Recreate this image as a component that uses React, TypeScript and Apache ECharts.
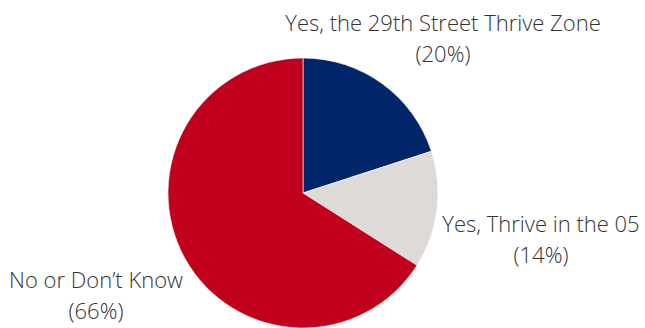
import React, { useEffect, useRef } from "react";
import * as echarts from "echarts";

const categories = ["Yes, the 29th Street Thrive Zone", "Yes, Thrive in the 05", "No or Don\u2019t Know"];
const values = [20, 14, 66];
const colors = ["#002569", "#DEDAD7", "#C0001C"];
const labelPositions = [
  [443, 37],
  [541, 238],
  [96, 294],
];

export default function App() {
  const ref = useRef<HTMLDivElement>(null);
  useEffect(() => {
    if (!ref.current) return;
    const chart = echarts.init(ref.current, null, { renderer: "svg" });
    chart.setOption({
      animation: false,
      backgroundColor: "#ffffff",
      series: [
        {
          type: "pie",
          center: [303, 193],
          radius: 135,
          startAngle: 90,
          clockwise: true,
          itemStyle: { borderColor: "#ffffff", borderWidth: 0.6 },
          label: {
            show: true,
            formatter: "{b}\n({c}%)",
            fontFamily: "Open Sans",
            fontSize: 22,
            fontWeight: 300,
            lineHeight: 31,
            color: "#333333",
            overflow: "none",
            width: 400,
            align: "center",
          },
          labelLine: { show: false },
          labelLayout: (params: any) => {
            const p = labelPositions[params.dataIndex];
            return { x: p[0], y: p[1], align: "center", verticalAlign: "middle" };
          },
          emphasis: { disabled: true },
          data: categories.map((name, i) => ({
            name,
            value: values[i],
            itemStyle: { color: colors[i] },
          })),
        },
      ],
    });
    return () => chart.dispose();
  }, []);
  return (
    <div
      ref={ref}
      style={{ position: "fixed", left: 0, top: 0, width: 645, height: 328 }}
    />
  );
}
